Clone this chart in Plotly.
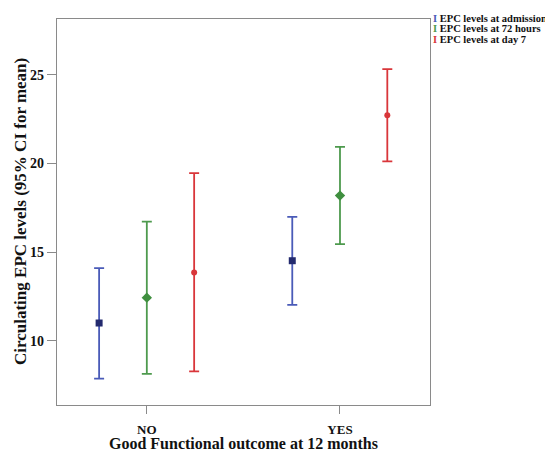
import plotly.graph_objects as go

categories = ["NO", "YES"]
series_names = ["EPC levels at admission", "EPC levels at 72 hours", "EPC levels at day 7"]
mean_admission = [11.01, 14.52]
lower_admission = [7.88, 12.03]
upper_admission = [14.10, 16.99]
mean_72h = [12.44, 18.19]
lower_72h = [8.14, 15.45]
upper_72h = [16.72, 20.93]
mean_day7 = [13.85, 22.72]
lower_day7 = [8.29, 20.12]
upper_day7 = [19.45, 25.31]
y_ticks = [10, 15, 20, 25]
x_title = "Good Functional outcome at 12 months"
y_title = "Circulating EPC levels (95% CI for mean)"

series = [
    (series_names[0], mean_admission, lower_admission, upper_admission, -0.247, "#4a5bb8", "#232a6e", "square", 7),
    (series_names[1], mean_72h, lower_72h, upper_72h, 0.0, "#4e9a4e", "#3f8f3f", "diamond", 8),
    (series_names[2], mean_day7, lower_day7, upper_day7, 0.245, "#d9363a", "#d9363a", "circle", 6),
]

FONT = "Liberation Serif, Times New Roman, serif"
W, H = 545, 444
ML, MT, MR, MB = 49, 11, 123, 47
plot_w = W - ML - MR
plot_h = H - MT - MB

fig = go.Figure()
for name, m, lo, up, off, ecol, mcol, sym, sz in series:
    xs = [i + off for i in range(len(categories))]
    fig.add_trace(go.Scatter(
        x=xs, y=m, mode="markers", name=name, showlegend=False,
        marker=dict(symbol=sym, size=sz, color=mcol),
        error_y=dict(type="data", symmetric=False,
                     array=[u - v for u, v in zip(up, m)],
                     arrayminus=[v - l for v, l in zip(m, lo)],
                     color=ecol, thickness=1.8, width=5),
    ))

# legend as text entries
for k, (name, m, lo, up, off, ecol, mcol, sym, sz) in enumerate(series):
    y_px = 10.3 + k * 10.5
    fig.add_annotation(
        xref="paper", yref="paper", x=1.006, y=(H - MB - y_px) / plot_h, xanchor="left", yanchor="middle",
        text=f"<span style='color:{ecol}'>I</span> {name}", showarrow=False, borderpad=0,
        font=dict(family=FONT, size=10.5, color="#111", weight="bold"),
    )

# axis titles
fig.add_annotation(xref="paper", yref="paper", x=0.5, y=(H - MB - 436) / plot_h,
                   xanchor="center", yanchor="middle", showarrow=False, text=x_title,
                   font=dict(family=FONT, size=16, color="#111", weight="bold"))
fig.add_annotation(xref="paper", yref="paper", x=(12 - ML) / plot_w, y=0.5, textangle=-90,
                   xanchor="center", yanchor="middle", showarrow=False, text=y_title,
                   font=dict(family=FONT, size=17, color="#111", weight="bold"))

fig.update_layout(
    width=W, height=H,
    margin=dict(l=ML, r=MR, t=MT, b=MB),
    paper_bgcolor="white", plot_bgcolor="white",
    font=dict(family=FONT, color="#111"),
    xaxis=dict(range=[-0.465, 1.466], tickvals=list(range(len(categories))), ticktext=categories,
               automargin=False,
               showgrid=False, zeroline=False, showline=True, mirror=True, linecolor="#8a8a8a",
               linewidth=1.2, ticks="outside", ticklen=8, tickcolor="#8a8a8a",
               ticklabelstandoff=4,
               tickfont=dict(family=FONT, size=13, color="#111", weight="bold")),
    yaxis=dict(range=[6.39, 28.14], tickvals=y_ticks, showgrid=False, zeroline=False,
               automargin=False,
               showline=True, mirror=True, linecolor="#8a8a8a", linewidth=1.2,
               ticks="outside", ticklen=9, tickcolor="#8a8a8a",
               tickfont=dict(family=FONT, size=14, color="#111", weight="bold")),
)
fig.write_html("out.html")
